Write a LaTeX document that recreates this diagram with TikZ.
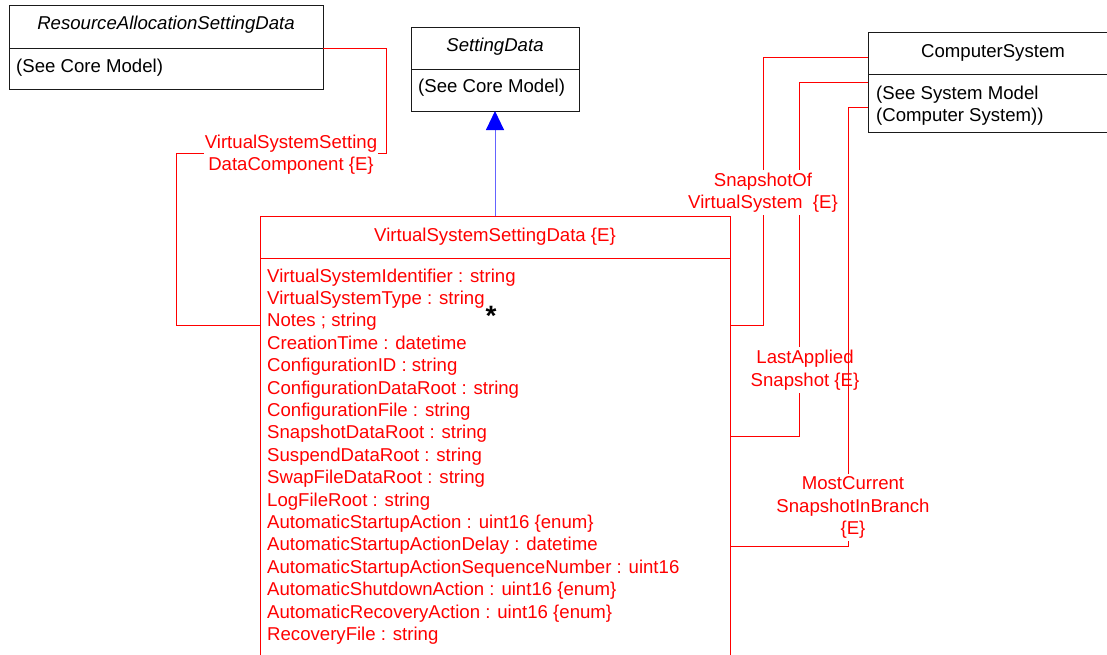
\documentclass[tikz,border=0pt]{standalone}
\usepackage{fontspec}
\setmainfont{Liberation Sans}
\usepackage{xcolor}
\definecolor{model-red}{HTML}{FF0000}
\definecolor{model-blue}{HTML}{0000FF}
\definecolor{model-lightblue}{HTML}{6464FF}
\definecolor{model-line}{HTML}{1A1A1A}
\usetikzlibrary{positioning,arrows.meta}

\begin{document}
\begin{tikzpicture}[x=1pt,y=-1pt,
    every node/.style={font=\fontsize{18.6}{22.4}\selectfont},
    classbox/.style={draw=model-line, line width=1pt, inner sep=0pt, outer sep=0pt},
    redbox/.style={classbox, draw=model-red},
    txt/.style={inner sep=0pt, anchor=base},
    attr/.style={txt, anchor=base west, text=model-red},
    assoc/.style={draw=model-red, line width=1pt},
    rolelabel/.style={text=model-red, fill=white, align=center, inner xsep=1pt, inner ysep=3pt}]

    % Page
    \useasboundingbox (0,0) rectangle (1107,654);

% ResourceAllocationSettingData
\node[classbox, minimum width=314pt, minimum height=43pt] (rasd-head) at (166,26.5) {};
\node[classbox, minimum width=314pt, minimum height=41pt, below=0pt of rasd-head] (rasd-body) {};
\node[txt, font=\fontsize{18.6}{22.4}\selectfont\itshape] (rasd-name) at ([yshift=-24pt]rasd-head.north) {ResourceAllocationSettingData};
\node[txt, anchor=base west] (rasd-note) at ([xshift=7pt,yshift=-24pt]rasd-body.north west) {(See Core Model)};

% SettingData
\node[classbox, minimum width=168pt, minimum height=42pt] (sd-head) at (495,48) {};
\node[classbox, minimum width=168pt, minimum height=42pt, below=0pt of sd-head] (sd-body) {};
\node[txt, font=\fontsize{18.6}{22.4}\selectfont\itshape] (sd-name) at ([yshift=-24pt]sd-head.north) {SettingData};
\node[txt, anchor=base west] (sd-note) at ([xshift=7pt,yshift=-23pt]sd-body.north west) {(See Core Model)};

% ComputerSystem
\node[classbox, minimum width=250pt, minimum height=42pt] (cs-head) at (993,53) {};
\node[classbox, minimum width=250pt, minimum height=58pt, below=0pt of cs-head] (cs-body) {};
\node[txt] (cs-name) at ([yshift=-25pt]cs-head.north) {ComputerSystem};
\node[txt, anchor=base west] (cs-note1) at ([xshift=8pt,yshift=-25pt]cs-body.north west) {(See System Model};
\node[txt, anchor=base west] (cs-note2) at ([xshift=8pt,yshift=-47pt]cs-body.north west) {(Computer System))};

% VirtualSystemSettingData
\node[redbox, minimum width=470pt, minimum height=42pt] (vssd-head) at (495,237) {};
\node[redbox, minimum width=470pt, minimum height=420pt, below=0pt of vssd-head] (vssd-body) {};
\node[txt, text=model-red] (vssd-name) at ([yshift=-25pt]vssd-head.north) {VirtualSystemSettingData \{E\}};
\foreach \attr [count=\i from 0] in {VirtualSystemIdentifier : string, VirtualSystemType : string,
    Notes ; string, CreationTime : datetime, ConfigurationID : string,
    ConfigurationDataRoot : string, ConfigurationFile : string, SnapshotDataRoot : string,
    SuspendDataRoot : string, SwapFileDataRoot : string, LogFileRoot : string,
    AutomaticStartupAction : uint16 \{enum\}, AutomaticStartupActionDelay : datetime,
    AutomaticStartupActionSequenceNumber : uint16, AutomaticShutdownAction : uint16 \{enum\},
    AutomaticRecoveryAction : uint16 \{enum\}, RecoveryFile : string}
  \node[attr] (attr-\i) at (267, 282+22.4*\i) {\attr};

% Inheritance
\draw[model-lightblue, line width=1pt, -{Triangle[length=19pt,width=18pt,color=model-blue,fill=model-blue]}] (vssd-head.north) -- (sd-body.south);

% Associations
\draw[assoc] (rasd-head.south east) -| (386,153) -- (176,153) |- (vssd-body.west |- 0,325);
\draw[assoc] (cs-head.west |- 0,57) -| (763,325) -- (vssd-body.east |- 0,325);
\draw[assoc] (cs-body.west |- 0,82) -| (799,436) -- (vssd-body.east |- 0,436);

\node[rolelabel] (vsc-lbl) at (291,154.5) {VirtualSystemSetting\\DataComponent \{E\}};
\node[rolelabel] (snap-lbl) at (763,192.5) {SnapshotOf\\VirtualSystem~~\{E\}};
\node[rolelabel] (last-lbl) at (805,370) {LastApplied\\Snapshot \{E\}};

\draw[assoc] (cs-body.west |- 0,107) -| (848,546) -- (vssd-body.east |- 0,546);
\node[rolelabel] (cur-lbl) at (853,507.5) {MostCurrent\\SnapshotInBranch\\\{E\}};

% Multiplicity
\node[txt, font=\fontsize{28}{28}\selectfont\bfseries] (mult) at (491,325) {*};

\end{tikzpicture}
\end{document}
